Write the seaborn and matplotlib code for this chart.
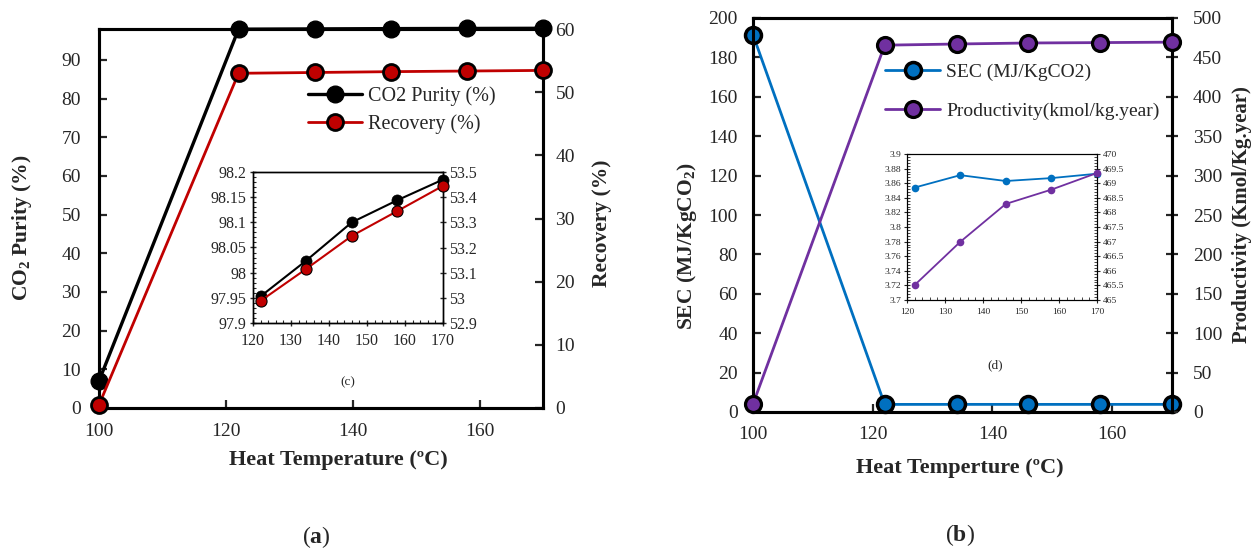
import matplotlib
matplotlib.use("Agg")
import matplotlib.pyplot as plt
import seaborn as sns
from matplotlib.ticker import MultipleLocator

# ---- data -------------------------------------------------------------
temperature = [100, 122, 134, 146, 158, 170]
co2_purity = [7.0, 97.953, 98.024, 98.100, 98.144, 98.185]
recovery = [0.5, 52.988, 53.115, 53.246, 53.345, 53.445]
sec = [191.5, 3.854, 3.871, 3.863, 3.867, 3.873]
productivity = [10.0, 465.51, 466.99, 468.29, 468.78, 469.35]

# ---- style ------------------------------------------------------------
sns.set_style("white")
plt.rcParams["font.family"] = ["Liberation Serif", "DejaVu Serif"]
plt.rcParams["mathtext.fontset"] = "custom"
plt.rcParams["mathtext.rm"] = "Liberation Serif"
plt.rcParams["mathtext.bf"] = "Liberation Serif:bold"
plt.rcParams["mathtext.it"] = "Liberation Serif:italic"

BLACK = "#000000"
RED = "#C00000"
BLUE = "#0070C0"
PURPLE = "#7030A0"

W, H = 1253, 548
fig = plt.figure(figsize=(W / 100, H / 100), dpi=100)
fig.patch.set_facecolor("white")


def frac(left, top, right, bottom):
    """Pixel box -> figure fraction rectangle."""
    return [left / W, 1 - bottom / H, (right - left) / W, (bottom - top) / H]


def series(ax, x, y, color, face, ms, mew, lw, z=3):
    sns.lineplot(x=x, y=y, ax=ax, color=color, marker="o", markersize=ms,
                 markerfacecolor=face, markeredgecolor="black",
                 markeredgewidth=mew, linewidth=lw, legend=False,
                 clip_on=False, zorder=z, sort=False)
    return ax.lines[-1]


def style_spines(ax, lw):
    for s in ax.spines.values():
        s.set_visible(True)
        s.set_color("black")
        s.set_linewidth(lw)


def place_label(axis, x, y):
    axis.set_label_coords(x, y)
    axis.label.set_verticalalignment("center")


xlabel_font = dict(fontsize=16, fontweight="bold")
ylabel_font = dict(fontsize=15.5, fontweight="bold")

# ======================= panel (a) ====================================
axa = fig.add_axes(frac(99, 29, 543, 408))
axa2 = axa.twinx()
la = series(axa, temperature, co2_purity, BLACK, BLACK, 12, 1.0, 2.4, z=3)
lb = series(axa2, temperature, recovery, RED, RED, 11.5, 2.0, 2.0, z=4)

axa.set_xlim(100, 170)
axa.set_ylim(0, 98)
axa2.set_ylim(0, 60)
axa.set_xticks([100, 120, 140, 160])
axa.set_yticks(range(0, 91, 10))
axa2.set_yticks(range(0, 61, 10))
for a in (axa, axa2):
    style_spines(a, 2.2)
    a.set_facecolor("none")
axa.tick_params(axis="x", direction="in", length=6, width=1.6, labelsize=14, pad=11, bottom=True)
axa.tick_params(axis="y", direction="in", length=6, width=1.6, labelsize=14, pad=13, left=True)
axa2.tick_params(axis="y", direction="in", length=6, width=1.6, labelsize=14, pad=9, right=True)

axa.set_xlabel("Heat Temperature (ºC)", **xlabel_font)
place_label(axa.xaxis, 0.54, -0.137)
axa.set_ylabel(r"CO$_\mathbf{2}$ Purity (%)", **ylabel_font)
place_label(axa.yaxis, -0.173, 0.475)
axa2.set_ylabel("Recovery (%)", **ylabel_font)
place_label(axa2.yaxis, 1.133, 0.487)

axa.legend([la, lb], ["CO2 Purity (%)", "Recovery (%)"], loc="center left",
           bbox_to_anchor=(308 / W, 1 - 110 / H), bbox_transform=fig.transFigure,
           frameon=False, fontsize=14.5, handlelength=2.7, handletextpad=0.3,
           labelspacing=0.42, borderpad=0, borderaxespad=0, numpoints=1)

# inset (c)
axc = fig.add_axes(frac(253, 172, 443, 323))
axc2 = axc.twinx()
series(axc, temperature[1:], co2_purity[1:], BLACK, BLACK, 8, 0.5, 1.5, z=3)
series(axc2, temperature[1:], recovery[1:], RED, RED, 8, 0.8, 1.5, z=4)
axc.set_xlim(120, 170)
axc.set_ylim(97.9, 98.2)
axc2.set_ylim(52.9, 53.5)
axc.xaxis.set_major_locator(MultipleLocator(10))
axc.xaxis.set_minor_locator(MultipleLocator(2))
axc.yaxis.set_major_locator(MultipleLocator(0.05))
axc.yaxis.set_minor_locator(MultipleLocator(0.01))
axc2.yaxis.set_major_locator(MultipleLocator(0.1))
axc.set_yticklabels([f"{v:g}" for v in axc.get_yticks()])
axc2.set_yticklabels([f"{v:g}" for v in axc2.get_yticks()])
for a in (axc, axc2):
    style_spines(a, 1.0)
    a.set_facecolor("none")
axc.set_facecolor("white")
axc.tick_params(which="major", direction="inout", length=5, width=1.0, labelsize=11.5, pad=2,
                bottom=True, left=True)
axc.tick_params(axis="x", which="major", pad=5)
axc.tick_params(which="minor", direction="in", length=2.5, width=0.8, bottom=True, left=True)
axc2.tick_params(which="major", direction="inout", length=5, width=1.0, labelsize=11.5, pad=2,
                 right=True)
fig.text(348 / W, 1 - 382 / H, "(c)", fontsize=9.5, ha="center", va="center")

fig.text(316 / W, 1 - 537 / H, r"($\mathbf{a}$)", fontsize=17, ha="center", va="center")

# ======================= panel (b) ====================================
axb = fig.add_axes(frac(753, 18, 1172, 412))
axb2 = axb.twinx()
ls = series(axb, temperature, sec, BLUE, BLUE, 11.5, 2.5, 2.0, z=3)
lp = series(axb2, temperature, productivity, PURPLE, PURPLE, 11.5, 2.3, 2.0, z=4)

axb.set_xlim(100, 170)
axb.set_ylim(0, 200)
axb2.set_ylim(0, 500)
axb.set_xticks([100, 120, 140, 160])
axb.set_yticks(range(0, 201, 20))
axb2.set_yticks(range(0, 501, 50))
for a in (axb, axb2):
    style_spines(a, 2.2)
    a.set_facecolor("none")
axb.tick_params(axis="x", direction="in", length=6, width=1.6, labelsize=14, pad=10, bottom=True)
axb.tick_params(axis="y", direction="in", length=6, width=1.6, labelsize=14, pad=11, left=True)
axb2.tick_params(axis="y", direction="inout", length=8, width=1.6, labelsize=14, pad=11, right=True)

axb.set_xlabel("Heat Temperture (ºC)", **xlabel_font)
place_label(axb.xaxis, 0.494, -0.142)
axb.set_ylabel(r"SEC (MJ/KgCO$_\mathbf{2}$)", **ylabel_font)
place_label(axb.yaxis, -0.1575, 0.42)
axb2.set_ylabel("Productivity (Kmol/Kg.year)", fontsize=15, fontweight="bold")
place_label(axb2.yaxis, 1.167, 0.5)

axb.legend([ls, lp], ["SEC (MJ/KgCO2)", "Productivity(kmol/kg.year)"], loc="center left",
           bbox_to_anchor=(885 / W, 1 - 92 / H), bbox_transform=fig.transFigure,
           frameon=False, fontsize=14, handlelength=2.85, handletextpad=0.3,
           labelspacing=1.1, borderpad=0, borderaxespad=0, numpoints=1)

# inset (d)
axd = fig.add_axes(frac(907, 154, 1097, 300))
axd2 = axd.twinx()
series(axd, temperature[1:], sec[1:], BLUE, BLUE, 5.5, 0, 1.3, z=3)
series(axd2, temperature[1:], productivity[1:], PURPLE, PURPLE, 5.5, 0, 1.3, z=4)
axd.set_xlim(120, 170)
axd.set_ylim(3.7, 3.9)
axd2.set_ylim(465, 470)
axd.xaxis.set_major_locator(MultipleLocator(10))
axd.xaxis.set_minor_locator(MultipleLocator(2))
axd.yaxis.set_major_locator(MultipleLocator(0.02))
axd.yaxis.set_minor_locator(MultipleLocator(0.004))
axd2.yaxis.set_major_locator(MultipleLocator(0.5))
axd2.yaxis.set_minor_locator(MultipleLocator(0.1))
axd.set_yticklabels([f"{v:g}" for v in axd.get_yticks()])
axd2.set_yticklabels([f"{v:g}" for v in axd2.get_yticks()])
for a in (axd, axd2):
    style_spines(a, 0.8)
    a.set_facecolor("none")
axd.set_facecolor("white")
axd.tick_params(which="major", direction="inout", length=4, width=0.8, labelsize=6.8, pad=2,
                bottom=True, left=True)
axd.tick_params(axis="x", which="major", pad=4)
axd.tick_params(which="minor", direction="in", length=2, width=0.6, bottom=True, left=True)
axd2.tick_params(which="major", direction="inout", length=4, width=0.8, labelsize=6.8, pad=2,
                 right=True)
axd2.tick_params(which="minor", direction="in", length=2, width=0.6, right=True)
fig.text(995 / W, 1 - 365 / H, "(d)", fontsize=9.5, ha="center", va="center")

fig.text(960 / W, 1 - 535 / H, r"($\mathbf{b}$)", fontsize=17, ha="center", va="center")

fig.savefig("out.png", dpi=100, facecolor="white")
